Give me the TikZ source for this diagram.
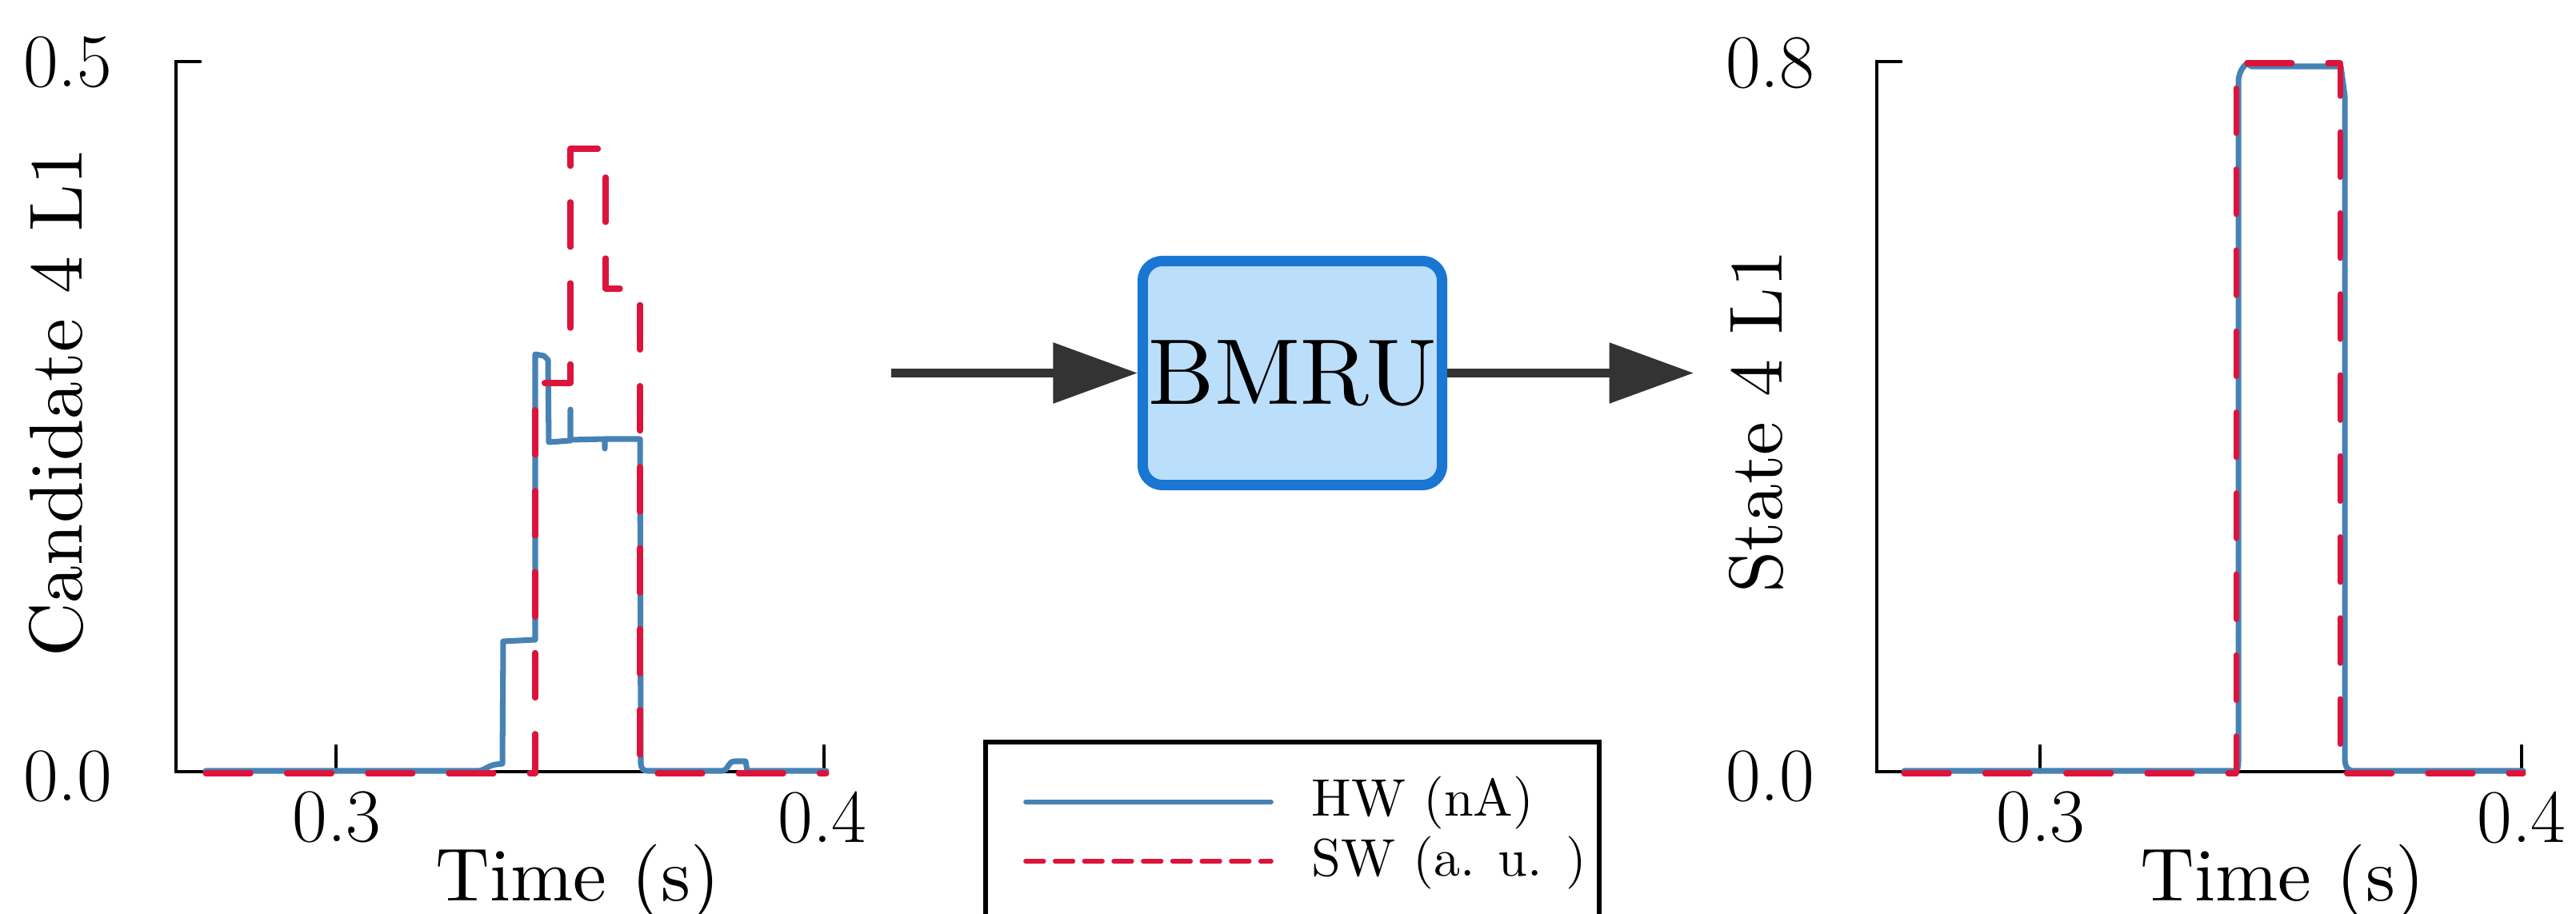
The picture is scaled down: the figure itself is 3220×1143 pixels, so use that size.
\documentclass[tikz,border=0pt]{standalone}
\usetikzlibrary{arrows.meta}
\definecolor{hwblue}{RGB}{70,130,180}
\definecolor{swred}{RGB}{220,20,60}
\definecolor{boxfill}{RGB}{187,222,251}
\definecolor{boxedge}{RGB}{25,118,210}
\definecolor{arrowgray}{RGB}{51,51,51}
\font\labfont="[lmroman10-regular]:mapping=tex-text" at 26.7pt
\font\legfont="[lmroman10-regular]:mapping=tex-text" at 18.8pt
\font\bmrufont="[lmroman10-regular]:mapping=tex-text" at 33.2pt
\tikzset{
 axisline/.style={black, line width=1.4pt, line cap=round, line join=miter},
 hwline/.style={hwblue, line width=2pt, line join=round, line cap=round},
 hwleg/.style={hwblue, line width=1.6pt, line cap=round},
 swline/.style={swred, line width=2pt, line join=round, line cap=round, dash pattern=on 16pt off 12.8pt},
 swleg/.style={swred, line width=1.6pt, line cap=round, dash pattern=on 6.45pt off 3.99pt},
 ticklab/.style={inner sep=0pt, font=\fontsize{27}{32}\selectfont},
 axlab/.style={inner sep=0pt, font=\labfont},
 bmrubox/.style={draw=boxedge, fill=boxfill, line width=3.7pt, rounded corners=7pt, minimum width=3.74cm, minimum height=2.80cm, inner sep=0pt, font=\bmrufont},
 flowarrow/.style={draw=arrowgray, line width=2.85pt, -{Triangle[length=30pt,width=21pt]}},
 legframe/.style={black, line width=1.6pt},
 leglab/.style={inner sep=0pt, anchor=base west, font=\legfont},
}
\begin{document}
\begin{tikzpicture}[x=0.01cm,y=-0.01cm]
\useasboundingbox (0,0) rectangle (3220,1143);

% ---------- left plot ----------
\draw[axisline] (250,77) -- (220,77) -- (220,965) -- (1033,965);
\draw[axisline] (420,965) -- (420,933);
\draw[axisline] (1030,965) -- (1030,933);
\node[ticklab, anchor=east] (l05) at (141,78) {0.5};
\node[ticklab, anchor=east] (l00) at (141,971) {0.0};
\node[ticklab] (l03) at (421,1022) {0.3};
\node[ticklab] (l04) at (1028,1022) {0.4};
\node[axlab, anchor=base] (lxl) at (722,1126) {Time (s)};
\node[axlab, anchor=base, rotate=90] (lyl) at (103,503) {Candidate 4 L1};

\draw[hwline] (257,964) -- (596,964) .. controls (606,964) and (610,957) .. (620,956) -- (628,955)
  -- (629,802) -- (669,800) -- (669,443) -- (680,445) -- (685,450) -- (686,553)
  -- (713,551) -- (713,512) -- (713,550) -- (756,549) -- (756,561) -- (756,549) -- (800,549)
  -- (801,955) .. controls (802,962) and (804,964) .. (810,964) -- (903,964)
  .. controls (910,964) and (910,952) .. (918,952) -- (932,952) -- (934,964) -- (1033,964);
\draw[swline] (257,967) -- (669,967) -- (669,479) -- (713,479) -- (713,186) -- (757,186)
  -- (757,361) -- (800,361) -- (800,967) -- (1033,967);

% ---------- BMRU block ----------
\node[bmrubox] (bmru) at (1615.5,466.5) {BMRU};
\coordinate (ain) at (1114,466.5);
\coordinate (aout) at (2117,466.5);
\draw[flowarrow] (ain) -- (bmru.west);
\draw[flowarrow] (bmru.east) -- (aout);

% ---------- legend ----------
\draw[legframe] (1232,1170) -- (1232,928) -- (1999,928) -- (1999,1170);
\draw[hwleg] (1282,1003) -- (1589,1003);
\draw[swleg] (1282,1077) -- (1589,1077);
\node[leglab] (leghw) at (1639,1020) {HW (nA)};
\node[leglab] (legsw) at (1639,1095) {SW (a. u. )};

% ---------- right plot ----------
\draw[axisline] (2376,77) -- (2346,77) -- (2346,965) -- (3154,965);
\draw[axisline] (2550,965) -- (2550,933);
\draw[axisline] (3152,965) -- (3152,933);
\node[ticklab, anchor=east] (r08) at (2269,79) {0.8};
\node[ticklab, anchor=east] (r00) at (2269,971) {0.0};
\node[ticklab] (r03) at (2551,1022) {0.3};
\node[ticklab] (r04) at (3152,1022) {0.4};
\node[axlab, anchor=base] (rxl) at (2853,1126) {Time (s)};
\node[axlab, anchor=base, rotate=90] (ryl) at (2227,527) {State 4 L1};

\draw[hwline] (2380,964) -- (2794,964) .. controls (2797,964) and (2798,960) .. (2798,950)
  -- (2798,100) .. controls (2799,90) and (2805,80) .. (2810,80) -- (2814,83) -- (2926,83)
  -- (2931,120) -- (2931,950) .. controls (2932,961) and (2935,964) .. (2944,964) -- (3154,964);
\draw[swline] (2380,967) -- (2795,967) -- (2795,79) -- (2925,79) -- (2925,967) -- (3154,967);
\end{tikzpicture}
\end{document}
